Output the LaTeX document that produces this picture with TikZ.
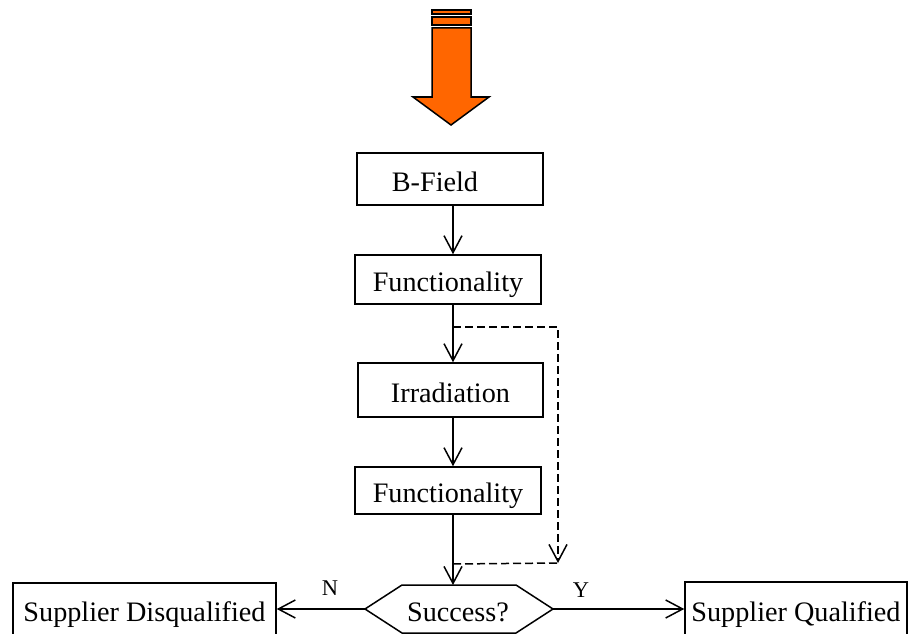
\documentclass[tikz,border=0pt]{standalone}
\usepackage{fontspec}
\setmainfont{Liberation Serif}
\usetikzlibrary{arrows.meta}
\definecolor{arroworange}{HTML}{FF6600}
\begin{document}
\begin{tikzpicture}[x=1pt,y=-1pt,
  every node/.style={font=\fontsize{28.2pt}{32pt}\selectfont},
  box/.style={draw,line width=1.5pt,inner sep=0pt,minimum width=#1,text height=24pt,text depth=0pt},
  conn/.style={line width=1.5pt,-{Straight Barb[length=17pt,width=18pt,line width=1.5pt]}},
  dconn/.style={line width=1.5pt,dash pattern=on 8pt off 4pt},
  lbl/.style={font=\fontsize{22.5pt}{24pt}\selectfont,inner sep=0pt}]
\useasboundingbox (0,0) rectangle (908,634);
% big orange arrow
\draw[line width=1.5pt,fill=arroworange] (432,10) rectangle (471,14);
\draw[line width=1.5pt,fill=arroworange] (432,17) rectangle (471,25);
\draw[line width=1.5pt,fill=arroworange,line join=miter]
  (432,28) -- (471,28) -- (471,97) -- (489,97) -- (451,125) -- (413,97) -- (432,97) -- cycle;
\coordinate (axis) at (453,0);
% boxes
\node[box=186pt,minimum height=52pt] (bf) at (450,179) {\hbox{B-Field\kern30pt}};
\node[box=186pt,minimum height=49pt] (f1) at (448,279.5) {Functionality};
\node[box=185pt,minimum height=54pt] (ir) at (450.5,390) {Irradiation};
\node[box=186pt,minimum height=47pt] (f2) at (448,490.5) {Functionality};
\node[box=263pt,minimum height=52pt] (sd) at (144.5,609) {Supplier Disqualified};
\node[box=222pt,minimum height=54pt] (sq) at (796,609) {Supplier Qualified};
% hexagon
\draw[line width=1.5pt,line join=miter] (365,609) -- (402,585) -- (516,585) -- (553,609) -- (516,633) -- (402,633) -- cycle;
\node[inner sep=0pt,text height=24pt,text depth=0pt] (succ) at (458,609) {Success?};
\coordinate (hexL) at (365,609);
\coordinate (hexR) at (553,609);
\coordinate (hexT) at (453,585);
% connectors
\draw[conn] (bf.south -| axis) -- (f1.north -| axis);
\draw[conn] (f1.south -| axis) -- (ir.north -| axis);
\draw[conn] (ir.south -| axis) -- (f2.north -| axis);
\draw[conn] (f2.south -| axis) -- (hexT);
\draw[conn] (hexL) -- (sd.east);
\draw[conn] (hexR) -- (sq.west);
% dashed bypass
\coordinate (dA) at (453,327);
\coordinate (dB) at (558,327);
\coordinate (dC) at (558,563);
\coordinate (dD) at (453,564);
\draw[dconn,-{Straight Barb[length=17pt,width=18pt,line width=1.5pt]}] (dA) -- (dB) -- (dC);
\draw[dconn] (dD) -- (dC);
% labels
\node[lbl] (n) at (330,588) {N};
\node[lbl] (y) at (581,590) {Y};
\end{tikzpicture}
\end{document}
